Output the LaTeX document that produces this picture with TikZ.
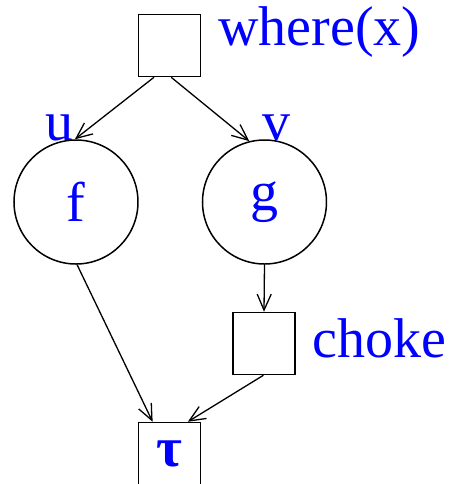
\documentclass[tikz,border=0pt]{standalone}
\usepackage{fontspec}
\setmainfont{Liberation Serif}
\usetikzlibrary{arrows.meta,positioning}
\definecolor{labelblue}{RGB}{0,0,255}
\tikzset{gate/.style={rectangle,draw=black,line width=0.75pt,minimum size=31pt,inner sep=0pt,text=labelblue},
  proc/.style={circle,draw=black,line width=0.75pt,minimum size=62pt,inner sep=0pt,text=labelblue},
  flow/.style={draw=black,line width=0.65pt,-{Straight Barb[length=8pt,width=7pt]}},
  tag/.style={text=labelblue,inner sep=0pt}}
\begin{document}
\begin{tikzpicture}[x=0.5pt,y=-0.5pt,font=\fontsize{28}{32}\selectfont]
\useasboundingbox (0,0) rectangle (451,484);

\node[gate] (src) at (169.5,45.5) {};
\node[proc] (f) at (76,202) {f};
\node[proc] (g) at (264.5,202) {g};
\node[gate] (choke) at (264,343.5) {};
\node[gate] (tau) at (169.5,453.5) {\bfseries τ};

\node[tag,anchor=base west] (whereLbl) at (218,45) {where(x)};
\node[tag,anchor=base west] (chokeLbl) at (312,357) {choke};
\node[tag,anchor=base] (uLbl) at (60,140) {u};
\node[tag,anchor=base] (vLbl) at (277,140) {v};

\draw[flow] (src.-116) -- (f.91);
\draw[flow] (src.-87) -- (g.104);
\draw[flow] (f.-89) -- (tau.118);
\draw[flow] (g.south) -- (choke.north);
\draw[flow] (choke.-91) -- (tau.60);

\end{tikzpicture}
\end{document}
